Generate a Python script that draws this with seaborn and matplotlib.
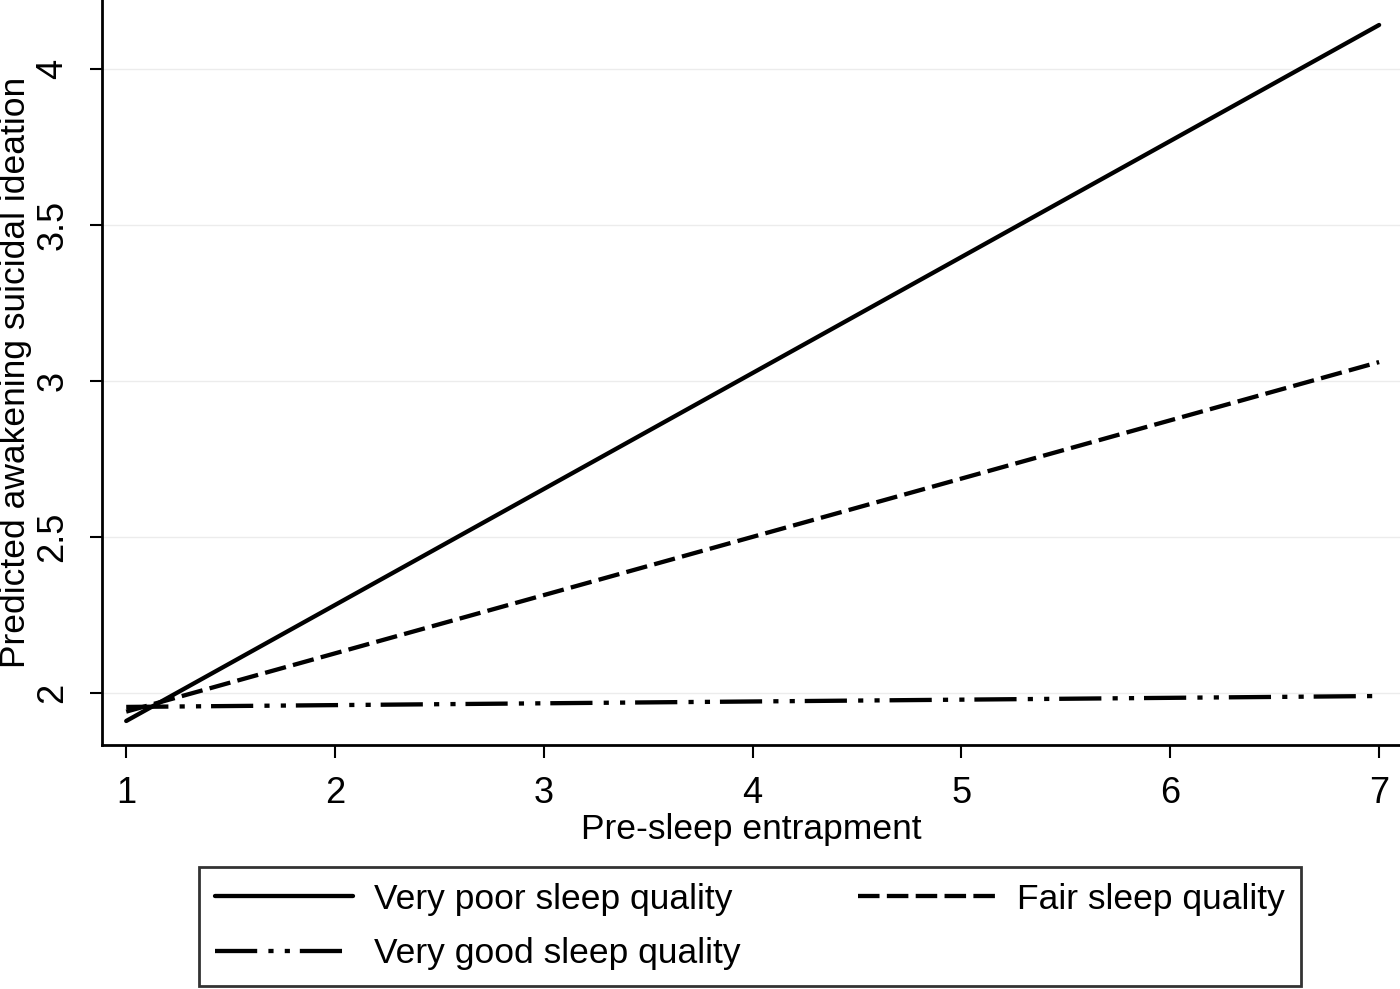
import numpy as np
import pandas as pd
import matplotlib
matplotlib.use("Agg")
import matplotlib.pyplot as plt
import seaborn as sns

# data
entrapment = [1, 7]
very_poor = [1.91, 4.14]
fair = [1.94, 3.06]
very_good = [1.955, 1.99]
groups = ["Very poor sleep quality", "Fair sleep quality", "Very good sleep quality"]
x_ticks = [1, 2, 3, 4, 5, 6, 7]
y_ticks = [2, 2.5, 3, 3.5, 4]
y_tick_labels = ["2", "2.5", "3", "3.5", "4"]

df = pd.DataFrame({
    "x": entrapment * 3,
    "y": very_poor + fair + very_good,
    "group": [groups[0]] * 2 + [groups[1]] * 2 + [groups[2]] * 2,
})

sns.set_style("white")
plt.rcParams["font.family"] = ["Liberation Sans", "DejaVu Sans"]
plt.rcParams["text.color"] = "black"
plt.rcParams["axes.labelcolor"] = "black"
plt.rcParams["xtick.color"] = "black"
plt.rcParams["ytick.color"] = "black"

fig = plt.figure(figsize=(14, 9.89), dpi=100)
ax = fig.add_axes([0.073, 0.2467, 0.927, 0.7533])

dashes = {
    groups[0]: "",
    groups[1]: (5.0, 1.7),
    groups[2]: (9.8, 2.6, 1.2, 2.6, 1.2, 2.3),
}
sns.lineplot(data=df, x="x", y="y", style="group", dashes=dashes,
             color="black", linewidth=3.1, ax=ax, legend=False,
             style_order=groups)
for ln in ax.lines:
    ln.set_dash_capstyle("butt")
    ln.set_solid_capstyle("round")

ax.set_xlim(0.885, 7.10)
ax.set_ylim(1.833, 4.22)
ax.set_xticks(x_ticks)
ax.set_yticks(y_ticks)
ax.set_yticklabels(y_tick_labels, rotation=90, va="center")
ax.tick_params(axis="both", direction="out", length=9, width=1.5,
               labelsize=26, color="black", bottom=True, left=True)
ax.tick_params(axis="x", pad=13)
ax.tick_params(axis="y", pad=14)
ax.grid(axis="y", color="#ececec", linewidth=1)
ax.set_axisbelow(True)
for s in ["top", "right"]:
    ax.spines[s].set_visible(False)
for s in ["left", "bottom"]:
    ax.spines[s].set_linewidth(2)
    ax.spines[s].set_color("black")

ax.set_xlabel("Pre-sleep entrapment", fontsize=25.5, labelpad=2)
ax.set_ylabel("Predicted awakening suicidal ideation", fontsize=25.5)
ax.yaxis.set_label_coords(-0.054, 0.5)

handles = {g: ln for g, ln in zip(groups, ax.lines)}
order = [groups[0], groups[2], groups[1]]
leg = fig.legend([handles[g] for g in order], order, ncol=2,
                 loc="lower left", mode="expand",
                 bbox_to_anchor=(199 / 1400, 3 / 989, 1102 / 1400, 119 / 989),
                 fontsize=25.5, frameon=True, fancybox=False,
                 edgecolor="black", handlelength=3.9, columnspacing=2.5,
                 handletextpad=0.6, borderpad=0.45, borderaxespad=0,
                 labelspacing=0.6)
leg.get_frame().set_linewidth(2)

fig.savefig("out.png", dpi=100, facecolor="white")
